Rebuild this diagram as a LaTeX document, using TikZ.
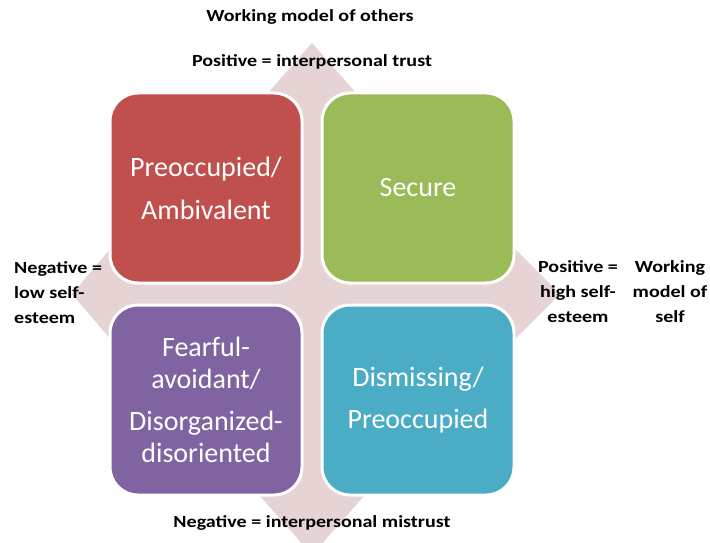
\documentclass[tikz,border=0pt]{standalone}
\usepackage{fontspec}
\setmainfont{Carlito}
\newfontfamily\quadfont{Carlito}
\newfontfamily\lblfont[FakeStretch=1.18]{Carlito}
\usepackage{tikz}
\usetikzlibrary{positioning}
\definecolor{quadred}{RGB}{192,80,77}
\definecolor{quadgreen}{RGB}{155,187,89}
\definecolor{quadpurple}{RGB}{128,100,162}
\definecolor{quadteal}{RGB}{75,172,198}
\definecolor{starpink}{RGB}{230,212,212}
\tikzset{%
    % the four quadrants
    quad/.style   = {draw=white, line width=3pt, rounded corners=28pt,
    minimum width=192pt, minimum height=190pt, text=white, align=center,
    font=\quadfont\fontsize{28}{32}\selectfont},
    % axis labels
    lbl/.style    = {inner sep=0pt, text=black,
    font=\lblfont\bfseries\fontsize{17}{25}\selectfont},
}
\begin{document}
\begin{tikzpicture}[x=1pt, y=-1pt]

	\useasboundingbox (0,0) rectangle (710,543);
	\tikzstyle{star}=[fill=starpink, draw=none]

	% fond en etoile (pointes)
	\coordinate (n) at (312,43);
	\coordinate (e) at (560,294);
	\coordinate (s) at (312,555);
	\coordinate (w) at (72,294);
	\fill[star] (n) -- (380,120) -- (480,214) -- (e) -- (480,374) -- (387,470)
	  -- (s) -- (237,470) -- (145,380) -- (w) -- (145,208) -- (244,120) -- cycle;

	% placement des noeuds
	\node[quad, fill=quadred] 	(prebox) at (206,188) 	{Preoccupied/\\[11pt]Ambivalent};
	\node[quad, fill=quadgreen] 	(secbox) at (418,188) 	{Secure};
	\node[quad, fill=quadpurple] 	(fearbox) at (206,400) 	{Fearful-\\avoidant/\\[10pt]Disorganized-\\disoriented};
	\node[quad, fill=quadteal] 	(disbox) at (418,400) 	{Dismissing/\\[10pt]Preoccupied};

	\node[lbl] 	(others) at (310,17) 	{Working model of others};
	\node[lbl] 	(trust) at (312,62) 	{Positive = interpersonal trust};
	\node[lbl] 	(mistrust) at (312,523) 	{Negative = interpersonal mistrust};
	\node[lbl, align=left, anchor=west] 	(low) at (14,293) 	{Negative =\\low self-\\esteem};
	\node[lbl, align=center] 	(high) at (578,292) 	{Positive =\\high self-\\esteem};
	\node[lbl, align=center] 	(self) at (670,292) 	{Working\\model of\\self};

\end{tikzpicture}
\end{document}
